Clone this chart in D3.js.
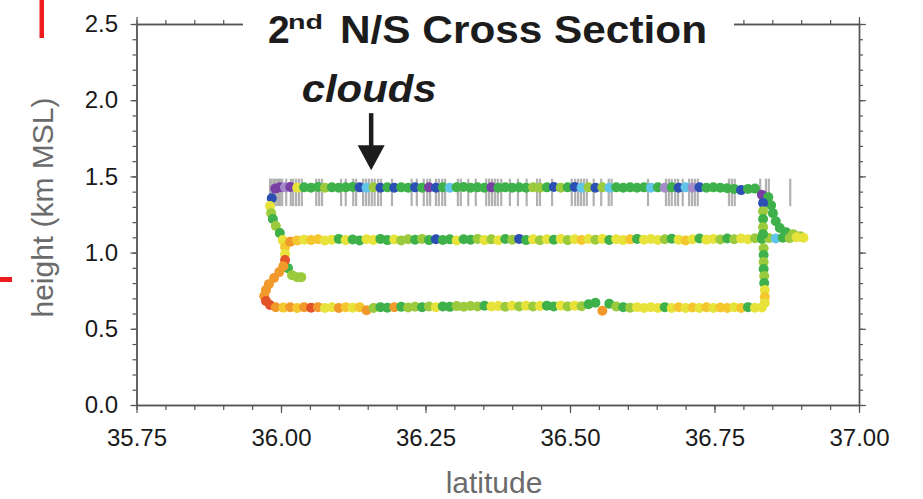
<!DOCTYPE html>
<html>
<head>
<meta charset="utf-8">
<script src="https://cdn.jsdelivr.net/npm/d3@7"></script>
<style>
  body { margin: 0; background: #fff; }
  svg { display: block; }
</style>
</head>
<body>
<svg id="chart" width="923" height="499"></svg>
<script>
// ---- data ----
// axis ticks
const latTicks = [35.75, 36.00, 36.25, 36.50, 36.75, 37.00];
const heightTicks = [0.0, 0.5, 1.0, 1.5, 2.0, 2.5];

// colour class of each track sample (0 purple ... 8 red, 9 lavender)
const classColours = ['#7a3fa5', '#2c4fb4', '#60c5e8', '#3eb14a', '#9bca3c',
                      '#e7e33b', '#f4c72e', '#f2992b', '#e4522a', '#a68bcb'];

// flight track samples: [latitude, height km, colour class]
const topLeg = [
  [35.990,1.420,0],[35.998,1.428,0],[36.007,1.428,9],
  [36.016,1.430,0],[36.028,1.425,5],[36.040,1.428,3],[36.052,1.425,3],[36.064,1.430,3],
  [36.076,1.425,4],[36.088,1.428,3],[36.100,1.425,3],[36.112,1.428,3],[36.124,1.430,3],
  [36.136,1.428,1],[36.148,1.425,2],[36.160,1.428,4],[36.172,1.425,1],[36.184,1.428,3],
  [36.196,1.425,1],[36.208,1.428,3],[36.220,1.425,3],[36.232,1.428,1],[36.244,1.425,3],
  [36.256,1.428,0],[36.268,1.425,1],[36.280,1.428,3],[36.292,1.425,2],[36.304,1.428,3],
  [36.316,1.430,3],[36.328,1.425,3],[36.340,1.428,3],[36.352,1.425,3],[36.364,1.428,0],
  [36.376,1.425,3],[36.388,1.428,3],[36.400,1.425,3],[36.412,1.428,3],[36.424,1.425,3],
  [36.436,1.428,4],[36.448,1.425,4],[36.460,1.428,3],[36.472,1.430,1],[36.484,1.425,4],
  [36.496,1.428,3],[36.508,1.430,1],[36.520,1.425,2],[36.532,1.428,4],[36.544,1.425,1],
  [36.556,1.428,4],[36.568,1.425,2],[36.580,1.428,3],[36.592,1.425,3],[36.604,1.428,3],
  [36.616,1.425,3],[36.628,1.428,3],[36.640,1.425,2],[36.652,1.428,3],[36.664,1.425,9],
  [36.676,1.428,3],[36.688,1.425,1],[36.700,1.428,2],[36.712,1.425,9],[36.724,1.428,1],
  [36.736,1.425,3],[36.748,1.428,3],[36.760,1.425,3],[36.772,1.422,3],[36.784,1.418,3],
  [36.796,1.410,1],[36.808,1.418,3],[36.820,1.420,3],[36.832,1.380,0]
];

const leftTurn = [
  [35.984,1.357,1],[35.981,1.305,5],[35.983,1.259,4],[35.986,1.220,3],[35.991,1.174,4],
  [35.998,1.128,3],[36.003,1.082,5],[36.007,1.036,6],[36.007,0.990,5],[36.007,0.951,8],
  [36.004,0.911,7],[35.997,0.872,7],[35.988,0.833,7],[35.979,0.793,7],[35.974,0.754,7],
  [35.971,0.715,7],[35.974,0.682,8],[35.981,0.656,8]
];

const spur = [[36.012,0.898,3],[36.019,0.852,4],[36.028,0.839,4],[36.035,0.839,4]];

const middleLeg = [
  [36.016,1.072,7],[36.028,1.080,6],[36.040,1.085,5],[36.052,1.082,6],[36.064,1.088,6],
  [36.076,1.080,5],[36.088,1.085,5],[36.100,1.090,3],[36.112,1.082,5],[36.124,1.086,3],
  [36.136,1.080,3],[36.148,1.088,5],[36.160,1.083,5],[36.172,1.090,3],[36.184,1.082,3],
  [36.196,1.086,5],[36.208,1.080,4],[36.220,1.088,4],[36.232,1.084,3],[36.244,1.090,4],
  [36.256,1.082,3],[36.268,1.088,1],[36.280,1.083,3],[36.292,1.087,3],[36.304,1.080,5],
  [36.316,1.088,3],[36.328,1.084,3],[36.340,1.090,4],[36.352,1.082,5],[36.364,1.087,4],
  [36.376,1.081,5],[36.388,1.089,3],[36.400,1.084,4],[36.412,1.090,1],[36.424,1.082,3],
  [36.436,1.087,5],[36.448,1.081,4],[36.460,1.088,5],[36.472,1.084,3],[36.484,1.089,5],
  [36.496,1.082,4],[36.508,1.088,5],[36.520,1.083,6],[36.532,1.089,5],[36.544,1.084,4],
  [36.556,1.090,5],[36.568,1.083,3],[36.580,1.088,5],[36.592,1.082,5],[36.604,1.087,6],
  [36.616,1.090,3],[36.628,1.084,5],[36.640,1.089,5],[36.652,1.083,5],[36.664,1.088,4],
  [36.676,1.091,3],[36.688,1.084,5],[36.700,1.080,6],[36.712,1.088,5],[36.724,1.092,3],
  [36.736,1.085,5],[36.748,1.090,5],[36.760,1.086,4],[36.772,1.092,3],[36.784,1.088,4],
  [36.796,1.093,5],[36.808,1.088,5],[36.820,1.094,4],[36.832,1.090,3],[36.844,1.095,4],
  [36.856,1.092,2],[36.868,1.097,3],[36.880,1.095,4],[36.892,1.100,5],[36.904,1.098,5]
];

const rightTurn = [
  [36.843,1.364,3],[36.848,1.311,3],[36.851,1.259,3],[36.856,1.206,3],[36.863,1.161,3],
  [36.874,1.134,3],[36.886,1.121,4],[36.898,1.108,4]
];

const rightClimb = [
  [36.834,1.325,1],[36.834,1.272,4],[36.834,1.220,3],[36.834,1.167,4],[36.834,1.121,3],
  [36.835,1.029,4],[36.835,0.984,3],[36.835,0.938,4],[36.835,0.892,3],[36.836,0.846,4],
  [36.836,0.800,3],[36.837,0.754,5],[36.837,0.708,6],[36.837,0.669,5]
];

const bottomLeg = [
  [35.991,0.641,7],[36.004,0.639,6],
  [36.016,0.641,7],[36.028,0.637,6],[36.040,0.642,7],[36.052,0.638,8],[36.064,0.642,7],
  [36.076,0.637,5],[36.088,0.641,5],[36.100,0.637,7],[36.112,0.642,6],[36.124,0.638,5],
  [36.136,0.642,6],[36.148,0.622,7],[36.160,0.637,4],[36.172,0.642,3],[36.184,0.638,3],
  [36.196,0.642,7],[36.208,0.644,3],[36.220,0.640,4],[36.232,0.645,4],[36.244,0.641,3],
  [36.256,0.646,4],[36.268,0.642,5],[36.280,0.647,3],[36.292,0.644,3],[36.304,0.649,4],
  [36.316,0.645,4],[36.328,0.650,4],[36.340,0.646,4],[36.352,0.651,3],[36.364,0.646,5],
  [36.376,0.650,5],[36.388,0.645,4],[36.400,0.651,5],[36.412,0.646,4],[36.424,0.651,5],
  [36.436,0.646,4],[36.448,0.650,5],[36.460,0.652,3],[36.472,0.647,3],[36.484,0.652,5],
  [36.496,0.647,4],[36.508,0.651,5],[36.520,0.648,4],[36.532,0.661,3],[36.544,0.671,3],
  [36.556,0.618,7],[36.568,0.664,3],[36.580,0.646,4],[36.592,0.642,3],[36.604,0.638,4],
  [36.616,0.642,5],[36.628,0.637,5],[36.640,0.641,5],[36.652,0.637,5],[36.664,0.642,3],
  [36.676,0.636,5],[36.688,0.641,6],[36.700,0.636,5],[36.712,0.640,6],[36.724,0.636,5],
  [36.736,0.641,6],[36.748,0.636,5],[36.760,0.640,6],[36.772,0.636,6],[36.784,0.641,5],
  [36.796,0.637,6],[36.808,0.642,3],[36.820,0.638,5],[36.832,0.640,5]
];

// cloud detections along the top leg (latitudes of the grey marks)
const cloudLat = [
  35.981,35.984,35.988,35.991,35.995,35.998,36.002,36.009,36.017,36.021,36.026,36.031,36.036,
  36.061,36.066,36.071,36.104,36.112,36.125,36.130,36.142,36.147,36.152,36.157,36.162,36.168,
  36.173,36.192,36.226,36.235,36.247,36.253,36.258,36.268,36.273,36.279,36.284,36.306,36.311,
  36.324,36.337,36.355,36.360,36.365,36.370,36.375,36.381,36.396,36.410,36.425,36.443,36.448,
  36.469,36.503,36.509,36.514,36.519,36.524,36.529,36.541,36.554,36.567,36.572,36.635,36.666,
  36.671,36.676,36.682,36.687,36.695,36.706,36.711,36.716,36.721,36.775,36.780,36.785,36.829,
  36.839,36.844,36.881
];
const cloudBand = [1.305, 1.485];

// "clouds" annotation: label and arrow position
const cloudNote = {lat: 36.156, labelAlt: 1.987, arrowFrom: 1.915, arrowTo: 1.541};

// ---- layout ----
const FONT = "'Liberation Sans', Arial, Helvetica, sans-serif";
const axisColour = '#555';
const svg = d3.select('#chart');

const x = d3.scaleLinear().domain([35.75, 37.0]).range([136.5, 859]);
const y = d3.scaleLinear().domain([0, 2.5]).range([405, 24]);

function styleAxis(g, size) {
  g.attr('font-family', FONT).attr('font-size', size || 24);
  g.select('.domain').attr('stroke', axisColour).attr('stroke-width', 1.4);
  g.selectAll('.tick line').attr('stroke', axisColour).attr('stroke-width', 1.2);
  g.selectAll('.tick text').attr('fill', '#1a1a1a');
}

// bottom axis
svg.append('g')
  .attr('transform', 'translate(0,405)')
  .call(d3.axisBottom(x).ticks(25).tickSize(5).tickSizeOuter(0).tickFormat(''))
  .call(styleAxis);
svg.append('g')
  .attr('transform', 'translate(0,405)')
  .call(d3.axisBottom(x).tickValues(latTicks).tickSize(8).tickSizeOuter(0)
    .tickPadding(16).tickFormat(d3.format('.2f')))
  .call(styleAxis);

// top axis
svg.append('g')
  .attr('transform', 'translate(0,24)')
  .call(d3.axisTop(x).ticks(25).tickSize(4).tickSizeOuter(0).tickFormat(''))
  .call(styleAxis);
svg.append('g')
  .attr('transform', 'translate(0,24)')
  .call(d3.axisTop(x).tickValues(latTicks).tickSize(7).tickSizeOuter(0).tickFormat(''))
  .call(styleAxis);

// left axis
svg.append('g')
  .attr('transform', 'translate(136.5,0)')
  .call(d3.axisLeft(y).ticks(25).tickSize(4).tickSizeOuter(0).tickFormat(''))
  .call(styleAxis);
svg.append('g')
  .attr('transform', 'translate(136.5,0)')
  .call(d3.axisLeft(y).tickValues(heightTicks).tickSize(6).tickSizeOuter(0)
    .tickPadding(12.5).tickFormat(d3.format('.1f')))
  .call(styleAxis);

// right axis
svg.append('g')
  .attr('transform', 'translate(859,0)')
  .call(d3.axisRight(y).ticks(25).tickSize(4).tickSizeOuter(0).tickFormat(''))
  .call(styleAxis);
svg.append('g')
  .attr('transform', 'translate(859,0)')
  .call(d3.axisRight(y).tickValues(heightTicks).tickSize(7).tickSizeOuter(0).tickFormat(''))
  .call(styleAxis);

// axis titles
svg.append('text')
  .attr('x', 494).attr('y', 493)
  .attr('text-anchor', 'middle')
  .attr('font-family', FONT).attr('font-size', 30)
  .attr('fill', '#6b6b6b')
  .text('latitude');

svg.append('text')
  .attr('transform', 'translate(53,207.5) rotate(-90)')
  .attr('text-anchor', 'middle')
  .attr('font-family', FONT).attr('font-size', 30)
  .attr('fill', '#6b6b6b')
  .text('height (km MSL)');

// cloud marks
svg.append('g')
  .selectAll('line')
  .data(cloudLat)
  .join('line')
  .attr('x1', d => x(d)).attr('x2', d => x(d))
  .attr('y1', y(cloudBand[1])).attr('y2', y(cloudBand[0]))
  .attr('stroke', '#a3a3a3')
  .attr('stroke-opacity', 0.85)
  .attr('stroke-width', 2.2);

// flight track
const track = [].concat(spur, leftTurn, topLeg, rightTurn, middleLeg, rightClimb, bottomLeg);
svg.append('g')
  .selectAll('circle')
  .data(track)
  .join('circle')
  .attr('cx', d => x(d[0]))
  .attr('cy', d => y(d[1]))
  .attr('r', 5)
  .attr('fill', d => classColours[d[2]]);

// "clouds" label and arrow
const ax = x(cloudNote.lat);
svg.append('text')
  .attr('x', ax - 2).attr('y', y(cloudNote.labelAlt))
  .attr('text-anchor', 'middle')
  .attr('font-family', FONT).attr('font-size', 38.5)
  .attr('font-weight', 'bold').attr('font-style', 'italic')
  .attr('fill', '#1c1c1c')
  .attr('textLength', 135).attr('lengthAdjust', 'spacingAndGlyphs')
  .text('clouds');

svg.append('line')
  .attr('x1', ax).attr('x2', ax)
  .attr('y1', y(cloudNote.arrowFrom)).attr('y2', y(cloudNote.arrowTo) - 20)
  .attr('stroke', '#1c1c1c').attr('stroke-width', 4.5);

const tipY = y(cloudNote.arrowTo);
svg.append('path')
  .attr('d', `M${ax - 13.5},${tipY - 25}L${ax + 13.5},${tipY - 25}L${ax},${tipY}Z`)
  .attr('fill', '#1c1c1c');

// title, on a white box that hides the top axis
svg.append('rect')
  .attr('x', 243).attr('y', 0)
  .attr('width', 491).attr('height', 56)
  .attr('fill', '#fff');

const title = svg.append('g')
  .attr('font-family', FONT).attr('font-weight', 'bold').attr('fill', '#1c1c1c');

title.append('text')
  .attr('x', 268).attr('y', 43)
  .attr('font-size', 39)
  .text('2');

title.append('text')
  .attr('x', 288).attr('y', 29)
  .attr('font-size', 20)
  .attr('textLength', 35).attr('lengthAdjust', 'spacingAndGlyphs')
  .text('nd');

title.append('text')
  .attr('x', 340).attr('y', 43)
  .attr('font-size', 39)
  .attr('textLength', 367).attr('lengthAdjust', 'spacingAndGlyphs')
  .text('N/S Cross Section');

// red crop marks from the source slide
svg.append('rect')
  .attr('x', 39.5).attr('y', 0).attr('width', 4.5).attr('height', 38)
  .attr('fill', '#ee1c1c');
svg.append('rect')
  .attr('x', 0).attr('y', 277).attr('width', 12).attr('height', 5)
  .attr('fill', '#ee1c1c');
</script>
</body>
</html>
